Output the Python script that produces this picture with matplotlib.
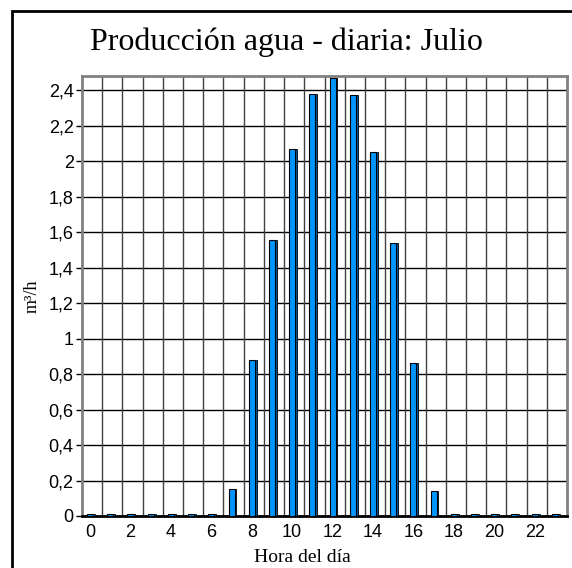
import numpy as np
import matplotlib.pyplot as plt
from matplotlib.patches import Rectangle

# Datos: produccion horaria de agua en julio (m3/h)
horas = np.arange(24)
produccion = [0.01, 0.01, 0.01, 0.01, 0.01, 0.01, 0.01, 0.15,
              0.88, 1.555, 2.07, 2.38, 2.47, 2.37, 2.05, 1.54,
              0.86, 0.14, 0.01, 0.01, 0.01, 0.01, 0.01, 0.01]
etiquetas_x = [str(h) for h in range(0, 24, 2)]
ticks_y = np.arange(0, 2.41, 0.2)
etiquetas_y = ['0' if t == 0 else ('%g' % round(t, 1)).replace('.', ',') for t in ticks_y]

fig = plt.figure(figsize=(5.72, 5.68), dpi=100)
# marco exterior (se sale por la derecha y por abajo)
fig.patches.append(Rectangle((12 / 572, -10 / 568), 600 / 572, 567 / 568,
                             transform=fig.transFigure, fill=False,
                             edgecolor='black', linewidth=2))

ax = fig.add_axes([82 / 572, 52 / 568, 485 / 572, 440 / 568])
ax.set_xlim(-0.5, 23.5)
ax.set_ylim(0, 2.479)

# rejilla
for t in ticks_y:
    ax.axhline(t, color='black', linewidth=1, zorder=1)
for k in range(1, 24):
    ax.axvline(k - 0.5, color='#404040', linewidth=1, zorder=1)

# barras con un poco de efecto 3D
desp = -0.1
ancho = 0.3
lado = 0.09
ax.bar(horas + desp, produccion, width=ancho, color='#0096FF',
       edgecolor='black', linewidth=0.8, zorder=3)
ax.bar(horas + desp + ancho / 2 + lado / 2, produccion, width=lado,
       color='#004F8C', edgecolor='black', linewidth=0.6, zorder=3)

ax.set_xticks(horas[::2] + desp)
ax.set_xticklabels(etiquetas_x, fontsize=13, family='Liberation Sans')
ax.set_yticks(ticks_y)
ax.set_yticklabels(etiquetas_y, fontsize=13, family='Liberation Sans')
ax.tick_params(axis='x', length=0, pad=6)
ax.tick_params(axis='y', length=4, width=1, direction='out', pad=2)

for s in ['left', 'top', 'right']:
    ax.spines[s].set_color('#808080')
    ax.spines[s].set_linewidth(2)
ax.spines['bottom'].set_color('black')
ax.spines['bottom'].set_linewidth(2)

fig.text(0.5, 0.925, 'Producción agua - diaria: Julio', ha='center', va='center',
         fontsize=23, family='Liberation Serif')
ax.set_ylabel('m³/h', fontsize=13, family='Liberation Serif', labelpad=6)
fig.text(302 / 572, 1 - 557 / 568, 'Hora del día', ha='center', va='center',
         fontsize=14, family='Liberation Serif')

fig.savefig('out.png', dpi=100)
